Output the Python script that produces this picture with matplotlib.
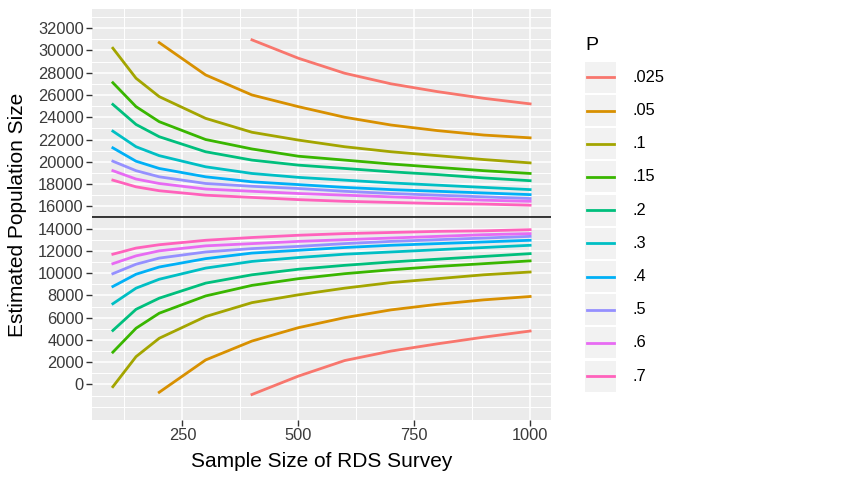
import numpy as np
import matplotlib
matplotlib.use("Agg")
import matplotlib.pyplot as plt
from matplotlib.patches import Rectangle
from matplotlib.lines import Line2D

plt.rcParams['font.family'] = ['Liberation Sans', 'DejaVu Sans']

nan = np.nan
sample_size = [100, 150, 200, 300, 400, 500, 600, 700, 800, 900, 1000]
p_levels = [".025", ".05", ".1", ".15", ".2", ".3", ".4", ".5", ".6", ".7"]
true_size = 15000

# estimated population size in thousands, branch above the true size
upper = [
    [nan, nan, nan, nan, 30.95, 29.3, 27.95, 27.0, 26.3, 25.7, 25.2],
    [nan, nan, 30.7, 27.8, 26.0, 24.95, 24.0, 23.3, 22.8, 22.4, 22.15],
    [30.2, 27.5, 25.85, 23.9, 22.65, 21.95, 21.35, 20.9, 20.55, 20.2, 19.9],
    [27.1, 24.95, 23.6, 22.0, 21.15, 20.5, 20.15, 19.8, 19.5, 19.2, 18.95],
    [25.15, 23.35, 22.25, 20.9, 20.15, 19.7, 19.4, 19.1, 18.85, 18.55, 18.3],
    [22.75, 21.35, 20.55, 19.55, 18.95, 18.6, 18.35, 18.1, 17.9, 17.7, 17.5],
    [21.25, 20.05, 19.4, 18.65, 18.2, 17.95, 17.7, 17.5, 17.35, 17.2, 17.05],
    [20.05, 19.2, 18.65, 18.05, 17.8, 17.6, 17.35, 17.15, 17.0, 16.85, 16.7],
    [19.2, 18.45, 18.05, 17.55, 17.35, 17.15, 17.0, 16.85, 16.7, 16.55, 16.45],
    [18.35, 17.75, 17.4, 17.0, 16.8, 16.6, 16.45, 16.35, 16.25, 16.2, 16.1],
]

# branch below the true size
lower = [
    [nan, nan, nan, nan, -0.9, 0.75, 2.15, 3.0, 3.65, 4.25, 4.8],
    [nan, nan, -0.7, 2.2, 3.9, 5.1, 6.0, 6.7, 7.2, 7.6, 7.9],
    [-0.2, 2.5, 4.15, 6.1, 7.35, 8.05, 8.65, 9.15, 9.5, 9.85, 10.1],
    [2.9, 5.05, 6.4, 7.95, 8.9, 9.5, 9.95, 10.3, 10.6, 10.85, 11.1],
    [4.85, 6.75, 7.75, 9.1, 9.85, 10.35, 10.7, 11.0, 11.25, 11.5, 11.75],
    [7.25, 8.65, 9.45, 10.45, 11.05, 11.4, 11.7, 11.9, 12.1, 12.3, 12.5],
    [8.8, 9.9, 10.55, 11.3, 11.8, 12.05, 12.3, 12.5, 12.65, 12.8, 12.95],
    [9.95, 10.8, 11.35, 11.9, 12.2, 12.4, 12.65, 12.85, 13.0, 13.15, 13.3],
    [10.85, 11.55, 12.0, 12.45, 12.65, 12.85, 13.0, 13.15, 13.3, 13.45, 13.55],
    [11.7, 12.25, 12.55, 12.95, 13.2, 13.4, 13.55, 13.65, 13.75, 13.8, 13.9],
]

colors = ["#F8766D", "#D89000", "#A3A500", "#39B600", "#00BF7D",
          "#00BFC4", "#00B0F6", "#9590FF", "#E76BF3", "#FF62BC"]

W, H = 841, 478
fig = plt.figure(figsize=(W / 100, H / 100), dpi=100)
ax = fig.add_axes([92 / W, 1 - 420 / H, (551 - 92) / W, (420 - 9) / H])
ax.set_facecolor('#EBEBEB')
for s in ax.spines.values():
    s.set_visible(False)

ax.set_xlim(55, 1045)
ax.set_ylim(-3190, 33720)
ax.set_xticks([250, 500, 750, 1000])
ax.set_xticks([125, 375, 625, 875], minor=True)
ax.set_yticks(range(0, 32001, 2000))
ax.set_yticks([-2000] + list(range(-1000, 33001, 2000)), minor=True)
ax.grid(which='major', color='white', linewidth=1.1)
ax.grid(which='minor', color='white', linewidth=0.7)
ax.set_axisbelow(True)
ax.tick_params(which='minor', length=0)
ax.tick_params(which='major', length=4, width=1, color='#333333',
               labelcolor='#3A3A3A', labelsize=11.8, pad=2)

for i in range(len(p_levels)):
    ax.plot(sample_size, np.array(upper[i]) * 1000, color=colors[i], lw=2.0)
    ax.plot(sample_size, np.array(lower[i]) * 1000, color=colors[i], lw=2.0)
ax.axhline(true_size, color='black', lw=1.1)

ax.set_xlabel('Sample Size of RDS Survey', fontsize=15, labelpad=6)
ax.set_ylabel('Estimated Population Size', fontsize=15, labelpad=8)

# legend drawn by hand in ggplot style
def fx(px):
    return px / W

def fy(py):
    return 1 - py / H

fig.text(fx(585), fy(45), 'P', fontsize=14, ha='left', va='center')
for i, lab in enumerate(p_levels):
    cy = 77.3 + 33.2 * i
    fig.add_artist(Rectangle((fx(585), fy(cy + 15.5)), 31 / W, 31 / H,
                             transform=fig.transFigure, facecolor='#F2F2F2',
                             edgecolor='none'))
    fig.add_artist(Line2D([fx(587), fx(614)], [fy(cy), fy(cy)],
                          transform=fig.transFigure, color=colors[i], lw=2.0))
    fig.text(fx(632), fy(cy), lab, fontsize=11.8, ha='left', va='center')

fig.savefig('out.png', dpi=100)
